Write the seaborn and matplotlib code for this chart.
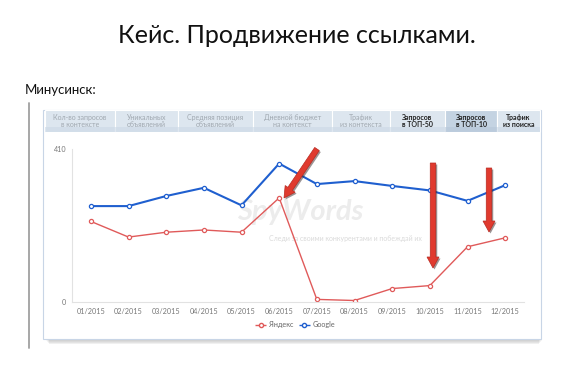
import numpy as np
import pandas as pd
import matplotlib.pyplot as plt
import seaborn as sns
from matplotlib.patches import Rectangle, FancyArrow
from matplotlib.lines import Line2D

# ---------- данные ----------
months = ['01/2015', '02/2015', '03/2015', '04/2015', '05/2015', '06/2015',
          '07/2015', '08/2015', '09/2015', '10/2015', '11/2015', '12/2015']
yandex = [216, 174, 187, 193, 187, 279, 7, 4, 36, 44, 148, 172]
google = [257, 257, 284, 306, 259, 371, 316, 324, 311, 299, 271, 313]
y_ticks = [0, 410]

tabs = ['Кол-во запросов\nв контексте', 'Уникальных\nобъявлений',
        'Средняя позиция\nобъявлений', 'Дневной бюджет\nна контекст',
        'Трафик\nиз контекста', 'Запросов\nв ТОП-50', 'Запросов\nв ТОП-10',
        'Трафик\nиз поиска']
tab_edges = [45, 115, 178, 253, 332, 390, 445, 497, 540]

df = pd.DataFrame({
    'month': months * 2,
    'value': yandex + google,
    'engine': ['Яндекс'] * len(months) + ['Google'] * len(months),
})
palette = {'Яндекс': '#e05a5a', 'Google': '#1f5fcf'}

sns.set_style('white')
plt.rcParams['font.family'] = ['Lato', 'DejaVu Sans']

fig = plt.figure(figsize=(5.68, 3.74), dpi=100)

# ---------- фон слайда (координаты в пикселях) ----------
bg = fig.add_axes([0, 0, 1, 1], zorder=0)
bg.set_xlim(0, 568)
bg.set_ylim(374, 0)
bg.axis('off')

bg.text(297, 35, 'Кейс. Продвижение ссылками.', ha='center', va='center',
        fontsize=18, color='#111111')
bg.text(25, 90, 'Минусинск:', ha='left', va='center', fontsize=9.5, color='#111111')
bg.plot([29, 29], [103, 348], color='#a0a0a0', lw=1.3)

# мягкая тень и рамка скриншота
for i, a in enumerate([0.03, 0.04, 0.05, 0.06]):
    bg.add_patch(Rectangle((46 + i, 112 + i), 496 - 2 * i, 229, facecolor='#000000',
                           alpha=a, edgecolor='none'))
bg.add_patch(Rectangle((43, 110), 498, 229, facecolor='white',
                       edgecolor='#c8d5e6', lw=0.8))

# вкладки
for i, name in enumerate(tabs):
    x0, x1 = tab_edges[i], tab_edges[i + 1]
    sel = i == 6
    bg.add_patch(Rectangle((x0, 110), x1 - x0, 22,
                           facecolor='#c4d3e2' if sel else '#dde6ef',
                           edgecolor='white', lw=0.8))
    bg.add_patch(Rectangle((x0, 127), x1 - x0, 5,
                           facecolor='#cbd8e6' if not sel else '#b6c7d9',
                           edgecolor='none', alpha=0.6))
    bg.text((x0 + x1) / 2, 121, name, ha='center', va='center',
            fontsize=5.0, linespacing=0.95,
            color='#222222' if i >= 5 else '#a0a8b0',
            fontweight='bold' if i >= 5 else 'normal')

# водяной знак
bg.text(300, 212, 'SpyWords', ha='center', va='center', fontsize=21,
        style='italic', color='#ececec', fontweight='bold')
bg.text(345, 238, 'Следи за своими конкурентами и побеждай их', ha='center',
        va='center', fontsize=5, color='#dadada')

# ---------- график ----------
ax = fig.add_axes([72 / 568, (374 - 302) / 374, 452 / 568, 153 / 374], zorder=2)
ax.patch.set_alpha(0)
sns.lineplot(data=df, x='month', y='value', hue='engine', palette=palette,
             marker='o', markersize=3.0, markerfacecolor='white',
             markeredgewidth=0.9, sort=False, ax=ax, legend=False)
for line, lw in zip(ax.lines, [1.0, 1.5]):
    line.set_linewidth(lw)
    line.set_markeredgecolor(line.get_color())

ax.set_xlim(-0.5, len(months) - 0.5)
ax.set_ylim(0, 410)
ax.set_yticks(y_ticks)
ax.set_xlabel('')
ax.set_ylabel('')
ax.tick_params(axis='both', length=0, labelsize=5.2, labelcolor='#777777', pad=4)
for s in ['top', 'right']:
    ax.spines[s].set_visible(False)
for s in ['left', 'bottom']:
    ax.spines[s].set_color('#e2e2e2')
    ax.spines[s].set_linewidth(0.8)

handles = [Line2D([], [], color=palette[k], lw=1, ls='--', marker='o', markersize=3,
                  markerfacecolor='white', markeredgecolor=palette[k])
           for k in ['Яндекс', 'Google']]
fig.legend(handles, ['Яндекс', 'Google'], loc='center', bbox_to_anchor=(295 / 568, 1 - 325 / 374),
           ncol=2, frameon=False, fontsize=5.2, labelcolor='#666666',
           handlelength=1.6, columnspacing=0.8, handletextpad=0.3)

# ---------- красные стрелки ----------
ov = fig.add_axes([0, 0, 1, 1], zorder=5)
ov.set_xlim(0, 568)
ov.set_ylim(374, 0)
ov.axis('off')
arrows = [(317, 149, -33, 49), (433, 163, 0, 105), (489, 168, 0, 64)]
for x, y, dx, dy in arrows:
    kw = dict(width=5.5, head_width=12, head_length=11, length_includes_head=True)
    ov.add_patch(FancyArrow(x + 1.5, y + 1.5, dx, dy, color='#3a2a2a', alpha=0.5, lw=0, **kw))
    ov.add_patch(FancyArrow(x, y, dx, dy, facecolor='#e03a2e', edgecolor='#b82a22', lw=0.5, **kw))

fig.savefig('out.png', dpi=100)
